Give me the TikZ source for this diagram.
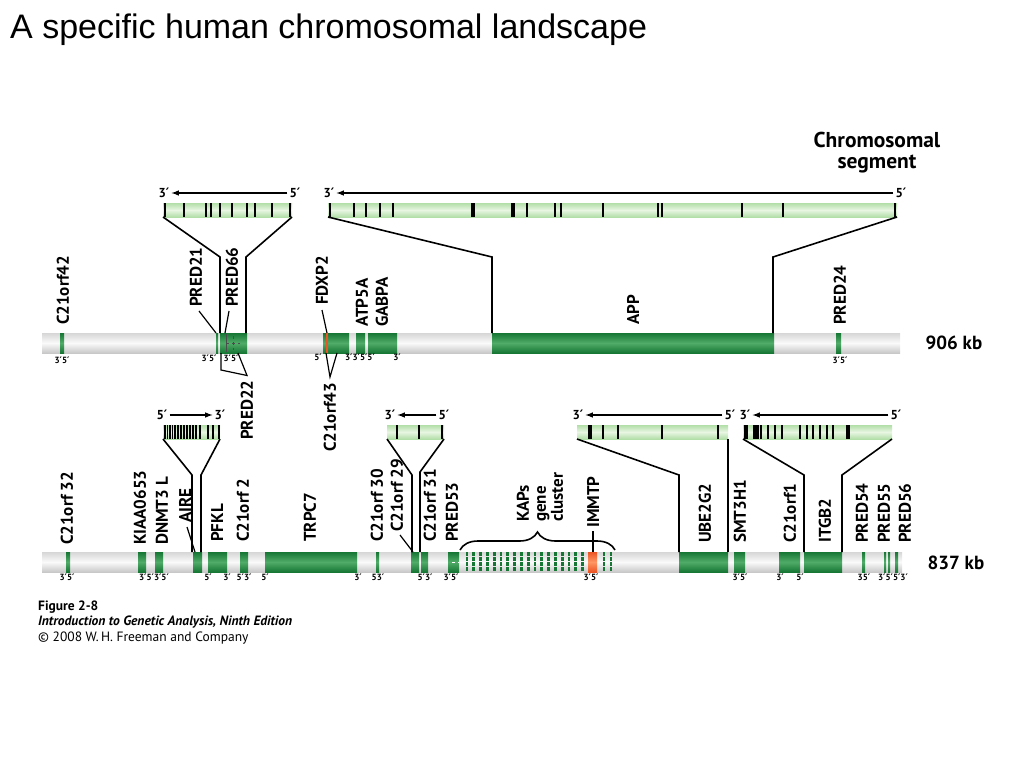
\documentclass[tikz,border=0pt]{standalone}
\usepackage{fontspec}
\setmainfont{PT Sans}
\newfontfamily\titlefont{Liberation Sans}
\newfontfamily\primefont{DejaVu Sans}
\newcommand\pr{{\primefont\char"2032}}
\usepackage{tikz}
\tikzset{>=latex}
\usetikzlibrary{arrows}
\usetikzlibrary{calc}
\usetikzlibrary{decorations.pathreplacing}

\definecolor{genedark}{RGB}{22,118,52}
\definecolor{genelight}{RGB}{80,172,104}
\definecolor{segdark}{RGB}{178,222,168}
\definecolor{seglight}{RGB}{232,246,226}
\definecolor{bartop}{RGB}{214,214,214}
\definecolor{barbot}{RGB}{200,200,200}
\definecolor{barlight}{RGB}{250,250,250}
\definecolor{orangedark}{RGB}{236,84,36}
\definecolor{orangelight}{RGB}{255,150,100}

\tikzset{
  chrom/.style={top color=bartop, bottom color=barbot, middle color=barlight},
  gene/.style={top color=genedark, bottom color=genedark, middle color=genelight},
  pseudo/.style={top color=orangedark, bottom color=orangedark, middle color=orangelight},
  segment/.style={top color=segdark, bottom color=segdark, middle color=seglight},
  exon/.style={line width=1.3pt},
  bigexon/.style={line width=3.5pt},
  link/.style={line width=1.6pt},
  leader/.style={line width=1.2pt},
  stripe/.style={genedark, line width=2.8pt, dash pattern=on 3.5pt off 1.5pt},
  genename/.style={rotate=90, anchor=west, inner sep=0pt, font=\bfseries\fontsize{17}{17}\selectfont},
  ends/.style={inner sep=0pt, font=\bfseries\fontsize{9}{10}\selectfont},
  strand/.style={inner sep=2pt, font=\bfseries\fontsize{13}{13}\selectfont},
  dir/.style={->, line width=1.5pt},
}

\begin{document}
\begin{tikzpicture}[x=1pt, y=-1pt]
    \useasboundingbox (0,0) rectangle (1024,768);

    % Connector end points
    \coordinate (S1l) at (163,217);
    \coordinate (S1r) at (292,217);
    \coordinate (K1l) at (220,257);
    \coordinate (K1r) at (246,257);
    \coordinate (G1l) at (220,333);
    \coordinate (G1r) at (246,333);

    \coordinate (S2l) at (328,217);
    \coordinate (S2r) at (897,217);
    \coordinate (K2l) at (492,257);
    \coordinate (K2r) at (773,257);
    \coordinate (G2l) at (492,333);
    \coordinate (G2r) at (773,333);

    \coordinate (S3l) at (163,439);
    \coordinate (S3r) at (220,439);
    \coordinate (K3l) at (192,475);
    \coordinate (K3r) at (201,475);
    \coordinate (G3l) at (192,552);
    \coordinate (G3r) at (201,552);

    \coordinate (S4l) at (387,439);
    \coordinate (S4r) at (444,439);
    \coordinate (K4l) at (412,475);
    \coordinate (K4r) at (420,472);
    \coordinate (G4l) at (412,552);
    \coordinate (G4r) at (420,552);

    \coordinate (S5l) at (577,439);
    \coordinate (S5r) at (728,439);
    \coordinate (K5l) at (679,475);
    \coordinate (G5l) at (679,552);
    \coordinate (G5r) at (728,552);

    \coordinate (S6l) at (743,439);
    \coordinate (S6r) at (892,439);
    \coordinate (K6l) at (804,475);
    \coordinate (K6r) at (842,475);
    \coordinate (G6l) at (804,552);
    \coordinate (G6r) at (842,552);

    % Title
    \node[anchor=base west, inner sep=0pt, font=\titlefont\fontsize{34}{34}\selectfont] (title) at (10,38) {A specific human chromosomal landscape};

    \node[align=center, font=\bfseries\fontsize{21.5}{21}\selectfont] (chromseg) at (877,153) {Chromosomal\\segment};

    % Upper chromosome
    \path[chrom] (42,333) rectangle (900,353);
    \foreach \a/\b in {60/64, 216/218, 220/247, 323/349, 356/365, 368/397, 492/774, 836/841}
        \path[gene] (\a,333) rectangle (\b,353);
    \draw[orangedark, line width=1.5pt] (327,333) -- (327,353);
    \draw[black!70, line width=0.6pt] (226,334) -- (226,352);
    \draw[black!70, line width=0.6pt, dashed] (226,343) -- (240,343);
    \draw[black!70, line width=0.6pt, dashed] (233,336) -- (233,350);
    \node[anchor=west, font=\bfseries\fontsize{19}{19}\selectfont] (kb906) at (922,343) {906 kb};

    % Lower chromosome
    \path[chrom] (42,552) rectangle (902,572);
    \foreach \a/\b in {66/70, 138/146, 155/163, 193/202, 208/227, 240/248, 265/357, 376/379,
                       411/419, 421/428, 448/459, 679/728, 734/745, 779/800, 804/842,
                       862/865, 884/886, 888/890, 895/898}
        \path[gene] (\a,552) rectangle (\b,572);
    \draw[white, line width=0.6pt, dashed] (452,562) -- (459,562);
    \foreach \i in {0,...,17}
        \draw[stripe] ({467+6.8*\i},552) -- ++(0,20);
    \draw[stripe] (604,552) -- ++(0,20);
    \draw[stripe] (611,552) -- ++(0,20);
    \path[pseudo] (588,552) rectangle (597,572);
    \node[anchor=west, font=\bfseries\fontsize{19}{19}\selectfont] (kb837) at (924,563) {837 kb};

    % Chromosomal segments
    \path[segment] (163,203) rectangle (292,217);
    \foreach \x in {165, 184, 206, 211, 220, 232, 247, 255, 272, 290}
        \draw[exon] (\x,203) -- (\x,217);

    \path[segment] (328,203) rectangle (897,217);
    \foreach \x in {330, 354, 366, 380, 393, 527, 555, 561, 603, 658, 662, 742, 783, 895}
        \draw[exon] (\x,203) -- (\x,217);
    \foreach \x in {473, 513}
        \draw[bigexon] (\x,203) -- (\x,217);

    \path[segment] (163,425) rectangle (220,439);
    \foreach \x in {165, 167.5, 170, 172.5, 175, 178, 181, 184, 187, 190, 193, 196, 200, 208, 213, 219}
        \draw[exon] (\x,425) -- (\x,439);

    \path[segment] (387,425) rectangle (444,439);
    \foreach \x in {397, 419, 442}
        \draw[exon] (\x,425) -- (\x,439);

    \path[segment] (577,425) rectangle (728,439);
    \foreach \x in {603, 618, 662, 718}
        \draw[exon] (\x,425) -- (\x,439);
    \draw[bigexon] (590,425) -- (590,439);

    \path[segment] (743,425) rectangle (892,439);
    \foreach \x in {754, 761, 768, 775, 782, 800, 807, 813, 820, 827, 833}
        \draw[exon] (\x,425) -- (\x,439);
    \foreach \x in {746, 757, 848}
        \draw[bigexon] (\x,425) -- (\x,439);

    % Strand direction
    \node[strand] (s1a) at (164,193) {3\pr};
    \node[strand] (s1b) at (295,193) {5\pr};
    \draw[dir] (s1b) -- (s1a);
    \node[strand] (s2a) at (329,193) {3\pr};
    \node[strand] (s2b) at (901,193) {5\pr};
    \draw[dir] (s2b) -- (s2a);
    \node[strand] (s3a) at (162,415) {5\pr};
    \node[strand] (s3b) at (220,415) {3\pr};
    \draw[dir] (s3a) -- (s3b);
    \node[strand] (s4a) at (390,415) {3\pr};
    \node[strand] (s4b) at (444,415) {5\pr};
    \draw[dir] (s4b) -- (s4a);
    \node[strand] (s5a) at (578,415) {3\pr};
    \node[strand] (s5b) at (730,415) {5\pr};
    \draw[dir] (s5b) -- (s5a);
    \node[strand] (s6a) at (745,415) {3\pr};
    \node[strand] (s6b) at (896,415) {5\pr};
    \draw[dir] (s6b) -- (s6a);

    % Segment connectors
    \draw[link] (S1l) -- (K1l) -- (G1l);
    \draw[link] (S1r) -- (K1r) -- (G1r);
    \draw[link] (S2l) -- (K2l) -- (G2l);
    \draw[link] (S2r) -- (K2r) -- (G2r);
    \draw[link] (S3l) -- (K3l) -- (G3l);
    \draw[link] (S3r) -- (K3r) -- (G3r);
    \draw[link] (S4l) -- (K4l) -- (G4l);
    \draw[link] (S4r) -- (K4r) -- (G4r);
    \draw[link] (S5l) -- (K5l) -- (G5l);
    \draw[link] (S5r) -- (G5r);
    \draw[link] (S6l) -- (K6l) -- (G6l);
    \draw[link] (S6r) -- (K6r) -- (G6r);

    % Gene names, upper chromosome
    \node[genename] (c21orf42) at (63,325) {C21orf42};
    \node[genename] (pred21) at (196,307) {PRED21};
    \node[genename] (pred66) at (232,307) {PRED66};
    \node[genename] (fdxp2) at (322,305) {FDXP2};
    \node[genename] (atp5a) at (362,327) {ATP5A};
    \node[genename] (gabpa) at (382,327) {GABPA};
    \node[genename] (app) at (633,325) {APP};
    \node[genename] (pred24) at (840,325) {PRED24};
    \node[genename] (pred22) at (247,440) {PRED22};
    \node[genename] (c21orf43) at (330,452) {C21orf43};

    \draw[leader] ($(pred21.west)+(3,4)$) -- (216,333);
    \draw[leader] ($(pred66.west)+(-3,4)$) -- (225,333);
    \draw[leader] ($(fdxp2.west)+(0,5)$) -- (327,333);
    \draw[leader] (221,353) -- (221,370) -- ($(pred22.east)+(0,-5)$) -- (238,353);
    \draw[leader] (326,353) -- ($(c21orf43.east)+(0,-6)$) -- (337,353);

    % Gene names, lower chromosome
    \node[genename] (c21orf32) at (67,545) {C21orf 32};
    \node[genename] (kiaa0653) at (140,545) {KIAA0653};
    \node[genename] (dnmt3l) at (162,545) {DNMT3 L};
    \node[genename] (aire) at (185,523) {AIRE};
    \node[genename] (pfkl) at (217,542) {PFKL};
    \node[genename] (c21orf2) at (243,542) {C21orf 2};
    \node[genename] (trpc7) at (310,542) {TRPC7};
    \node[genename] (c21orf30) at (377,542) {C21orf 30};
    \node[genename] (c21orf29) at (397,532) {C21orf 29};
    \node[genename] (c21orf31) at (430,542) {C21orf 31};
    \node[genename] (pred53) at (452,542) {PRED53};
    \node[genename, align=left] (kaps) at (540,522) {KAPs\\gene\\cluster};
    \node[genename] (immtp) at (593,528) {IMMTP};
    \node[genename] (ube2g2) at (705,543) {UBE2G2};
    \node[genename] (smt3h1) at (740,543) {SMT3H1};
    \node[genename] (c21orf1) at (790,543) {C21orf1};
    \node[genename] (itgb2) at (825,543) {ITGB2};
    \node[genename] (pred54) at (862,543) {PRED54};
    \node[genename] (pred55) at (884,543) {PRED55};
    \node[genename] (pred56) at (905,543) {PRED56};

    \draw[leader] ($(aire.west)+(2,4)$) -- (195,552);
    \draw[leader] ($(c21orf29.west)+(3,3)$) -- (413,552);
    \draw[leader] ($(immtp.west)+(0,3)$) -- (593,552);
    \draw[link, decorate, decoration={brace, amplitude=18pt}] (460,550) -- (615,550);

    % Strand ends
    \node[ends] at (62,360) {3\pr5\pr};
    \node[ends] at (209,358) {3\pr5\pr};
    \node[ends] at (231,358) {3\pr5\pr};
    \node[ends] at (318,357) {5\pr};
    \node[ends] at (360,357) {3\pr3\pr5\pr5\pr};
    \node[ends] at (397,357) {3\pr};
    \node[ends] at (840,360) {3\pr5\pr};

    \node[ends] at (67,577) {3\pr5\pr};
    \node[ends] at (154,577) {3\pr5\pr3\pr5\pr};
    \node[ends] at (208,577) {5\pr};
    \node[ends] at (227,577) {3\pr};
    \node[ends] at (244,577) {5\pr3\pr};
    \node[ends] at (265,577) {5\pr};
    \node[ends] at (358,577) {3\pr};
    \node[ends] at (378,577) {53\pr};
    \node[ends] at (425,577) {5\pr3\pr};
    \node[ends] at (451,577) {3\pr5\pr};
    \node[ends] at (591,577) {3\pr5\pr};
    \node[ends] at (740,577) {3\pr5\pr};
    \node[ends] at (780,577) {3\pr};
    \node[ends] at (800,577) {5\pr};
    \node[ends] at (864,577) {35\pr};
    \node[ends] at (893,577) {3\pr5\pr5\pr3\pr};

    % Credit
    \node[anchor=base west, inner sep=0pt, font=\bfseries\fontsize{13.5}{14}\selectfont] (fig) at (38,610) {Figure 2-8};
    \node[anchor=base west, inner sep=0pt, font=\bfseries\itshape\fontsize{13.5}{14}\selectfont] (book) at (38,625) {Introduction to Genetic Analysis, Ninth Edition};
    \node[anchor=base west, inner sep=0pt, font=\fontsize{13.5}{14}\selectfont] (publisher) at (38,641) {© 2008 W.\,H. Freeman and Company};
\end{tikzpicture}
\end{document}
